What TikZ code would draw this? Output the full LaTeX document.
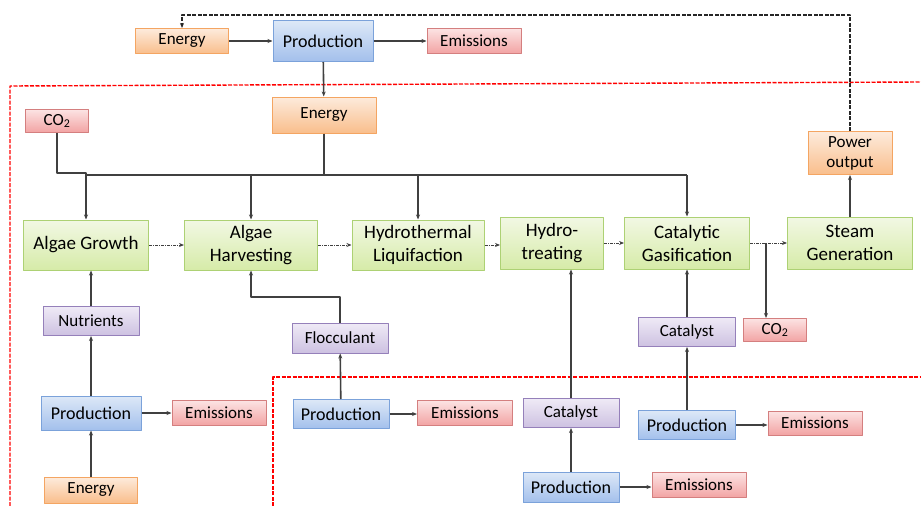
\documentclass[tikz,border=0pt]{standalone}
\usepackage{fontspec}
\setmainfont{Carlito}
\usetikzlibrary{arrows.meta}
\definecolor{ortop}{HTML}{FDEBDC}
\definecolor{orbot}{HTML}{F9BE8C}
\definecolor{orbd}{HTML}{F4A562}
\definecolor{bltop}{HTML}{DDE8F7}
\definecolor{blbot}{HTML}{A3C0EC}
\definecolor{blbd}{HTML}{7BA2DA}
\definecolor{rdtop}{HTML}{FCE3E3}
\definecolor{rdbot}{HTML}{F2A3A3}
\definecolor{rdbd}{HTML}{D47F7F}
\definecolor{grtop}{HTML}{F2F8E4}
\definecolor{grbot}{HTML}{D6EBA8}
\definecolor{grbd}{HTML}{ADD174}
\definecolor{pptop}{HTML}{EFEAF6}
\definecolor{ppbot}{HTML}{CDC1E1}
\definecolor{ppbd}{HTML}{9580BA}
\definecolor{ln}{HTML}{404040}
\begin{document}
\begin{tikzpicture}[x=1pt,y=-1pt,>={Stealth[length=5pt,width=4pt]},line join=round,
  box/.style={draw,line width=1pt,inner sep=0pt,align=center,font=\fontsize{17}{20}\selectfont},
  energy/.style={box,draw=orbd,top color=ortop,bottom color=orbot},
  prod/.style={box,draw=blbd,top color=bltop,bottom color=blbot,font=\fontsize{18}{21}\selectfont},
  emis/.style={box,draw=rdbd,top color=rdtop,bottom color=rdbot},
  stage/.style={box,draw=grbd,top color=grtop,bottom color=grbot,font=\fontsize{19}{23}\selectfont},
  input/.style={box,draw=ppbd,top color=pptop,bottom color=ppbot},
  flow/.style={draw=ln,line width=1.6pt},
  chain/.style={draw=ln,line width=0.9pt,dash pattern=on 3pt off 1pt on 1pt off 1pt},
  feedback/.style={draw=black!85,line width=1.6pt,dash pattern=on 4pt off 1.5pt},
  border/.style={draw=red,line width=1.4pt,dash pattern=on 4pt off 1.5pt}]
  \useasboundingbox (0,0) rectangle (921,506);
  \draw[border] (10,506) -- (10,86) -- (921,82);
  \draw[border] (273,506) -- (273,377) -- (921,377);
  \node[energy,minimum width=93pt,minimum height=25pt] (en1) at (182,41) {Energy};
  \node[prod,minimum width=100pt,minimum height=41pt] (pr1) at (323,41) {Production};
  \node[emis,minimum width=94pt,minimum height=25pt] (em1) at (474,41) {Emissions};
  \node[energy,minimum width=104pt,minimum height=36pt] (en2) at (324,115) {Energy};
  \node[emis,minimum width=63pt,minimum height=23pt] (co2a) at (57,121) {CO\textsubscript{2}};
  \node[stage,minimum width=125pt,minimum height=50pt] (ag) at (86,245) {Algae Growth};
  \node[stage,minimum width=133pt,minimum height=50pt] (ah) at (251,245) {Algae\\Harvesting};
  \node[stage,minimum width=132pt,minimum height=50pt] (hl) at (418,245) {Hydrothermal\\Liquifaction};
  \node[stage,minimum width=103pt,minimum height=52pt] (ht) at (552,243) {Hydro-\\treating};
  \node[stage,minimum width=125pt,minimum height=52pt] (cg) at (687,243) {Catalytic\\Gasification};
  \node[stage,minimum width=125pt,minimum height=52pt] (sg) at (850,243) {Steam\\Generation};
  \node[energy,minimum width=84pt,minimum height=43pt] (pow) at (850,153) {Power\\output};
  \node[emis,minimum width=63pt,minimum height=23pt] (co2b) at (775,330) {CO\textsubscript{2}};
  \node[input,minimum width=96pt,minimum height=29pt] (nut) at (91,321) {Nutrients};
  \node[prod,minimum width=100pt,minimum height=34pt] (pr2) at (91,413) {Production};
  \node[emis,minimum width=94pt,minimum height=25pt] (em2) at (219,413) {Emissions};
  \node[energy,minimum width=93pt,minimum height=26pt] (en3) at (91,490) {Energy};
  \node[input,minimum width=96pt,minimum height=30pt] (floc) at (340,338) {Flocculant};
  \node[prod,minimum width=96pt,minimum height=29pt] (pr3) at (341,414) {Production};
  \node[emis,minimum width=95pt,minimum height=25pt] (em3) at (465,413) {Emissions};
  \node[input,minimum width=96pt,minimum height=29pt] (cat1) at (571,413) {Catalyst};
  \node[prod,minimum width=96pt,minimum height=30pt] (pr4) at (571,487) {Production};
  \node[emis,minimum width=94pt,minimum height=25pt] (em4) at (699,485) {Emissions};
  \node[input,minimum width=97pt,minimum height=29pt] (cat2) at (687,332) {Catalyst};
  \node[prod,minimum width=97pt,minimum height=29pt] (pr5) at (687,425) {Production};
  \node[emis,minimum width=94pt,minimum height=24pt] (em5) at (815,423) {Emissions};
  \coordinate (busl) at (86,175);
  \coordinate (busr) at (687,175);
  \coordinate (tap) at (766,243);
  \coordinate (fbtop) at (850,15);
  \draw[flow,->] (en1) -- (pr1);
  \draw[flow,->] (pr1) -- (em1);
  \draw[flow,->] (pr1) -- (en2);
  \draw[flow] (en2) -- (en2 |- busl);
  \draw[flow] (busl) -- (busr);
  \draw[flow,->] (co2a) |- ([yshift=2pt]busl) -- (ag);
  \draw[flow,->] (ah |- busl) -- (ah);
  \draw[flow,->] (hl |- busl) -- (hl);
  \draw[flow,->] (busr) -- (cg);
  \draw[chain,->] (ag) -- (ah);
  \draw[chain,->] (ah) -- (hl);
  \draw[chain,->] (hl.east) -- (hl.east -| ht.west);
  \draw[chain,->] (ht) -- (cg);
  \draw[chain,->] (cg) -- (sg);
  \draw[flow,->] (tap) -- (tap |- co2b.north);
  \draw[flow,->] (sg) -- (pow);
  \draw[feedback,->] (pow) -- (fbtop) -| (en1);
  \draw[flow,->] (nut.north) -- (nut.north |- ag.south);
  \draw[flow,->] (pr2) -- (nut);
  \draw[flow,->] (en3) -- (pr2);
  \draw[flow,->] (pr2) -- (em2);
  \draw[flow,->] (floc) -- ++(0,-41) -| (ah);
  \draw[flow,->] (pr3) -- (floc);
  \draw[flow,->] (pr3.east) -- (pr3.east -| em3.west);
  \draw[flow,->] (cat1) -- (cat1 |- ht.south);
  \draw[flow,->] (pr4) -- (cat1);
  \draw[flow,->] (pr4.east) -- (pr4.east -| em4.west);
  \draw[flow,->] (cat2) -- (cg);
  \draw[flow,->] (pr5) -- (cat2);
  \draw[flow,->] (pr5.east) -- (pr5.east -| em5.west);
\end{tikzpicture}
\end{document}
